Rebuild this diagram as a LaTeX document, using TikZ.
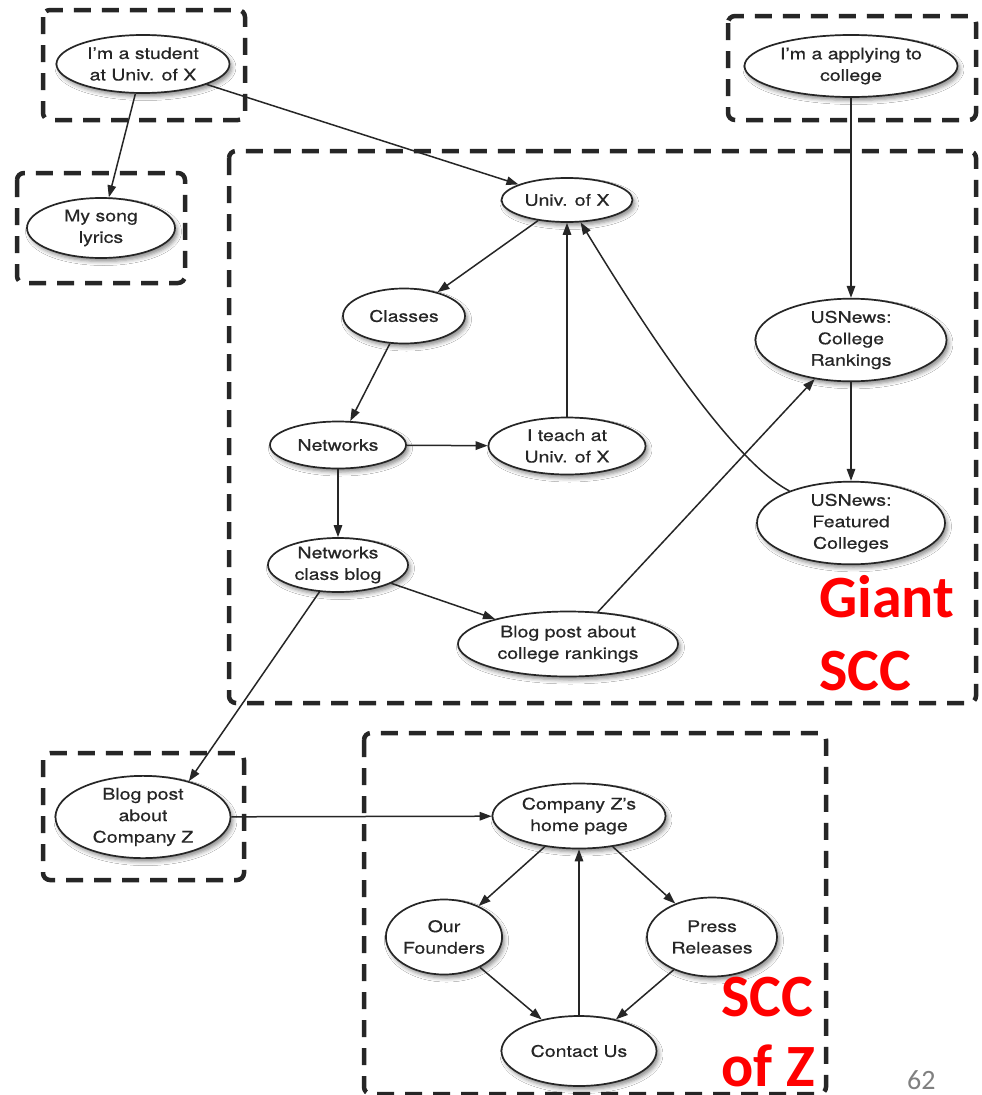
\documentclass[tikz,border=0pt]{standalone}
\usepackage{fontspec}
\setmainfont{TeX Gyre Heros}[FakeStretch=1.22, FakeBold=0.5]
\newfontfamily\labelfont{Carlito}
\usetikzlibrary{shapes.geometric,arrows.meta,shadows.blur}

\tikzset{
  vertex/.style={ellipse, draw=black!85, line width=1.7pt, fill=white,
    inner sep=0pt, align=center, text=black!85,
    font=\fontsize{16}{21.5}\selectfont,
    blur shadow={shadow xshift=2.5pt, shadow yshift=-3.5pt,
      shadow blur radius=4pt, shadow opacity=45}},
  group/.style={draw=black!85, line width=4.5pt,
    dash pattern=on 17pt off 11pt, rounded corners=7pt},
  link/.style={draw=black!85, line width=1.5pt,
    -{Triangle[length=12pt,width=8.5pt]}},
  scclabel/.style={text=red, font=\labelfont\bfseries\fontsize{60}{72}\selectfont,
    inner sep=0pt, anchor=base west},
}

\begin{document}
\begin{tikzpicture}[x=1pt,y=-1pt]
  \useasboundingbox (0,0) rectangle (982,1095);
  \fill[white] (0,0) rectangle (982,1095);

  % groupings of the web pages
  \draw[group] (43,10) rectangle (245,120);
  \draw[group] (17,173) rectangle (185,283);
  \draw[group] (728,16) rectangle (976,120);
  \draw[group] (229,151) rectangle (976,703);
  \draw[group] (43,753) rectangle (244,880);
  \draw[group] (364,733) rectangle (826,1094);

  % pages
  \node[vertex, minimum width=173pt, minimum height=58pt] (student) at (143,64) {I'm a student\\at Univ. of X};
  \node[vertex, minimum width=148pt, minimum height=60pt] (song) at (101,228) {My song\\lyrics};
  \node[vertex, minimum width=213pt, minimum height=62pt] (apply) at (851,66) {I'm a applying to\\college};
  \node[vertex, minimum width=131pt, minimum height=44pt] (univ) at (567,200) {Univ. of X};
  \node[vertex, minimum width=122pt, minimum height=55pt] (classes) at (404,316) {Classes};
  \node[vertex, minimum width=136pt, minimum height=47pt] (net) at (338,445) {Networks};
  \node[vertex, minimum width=157pt, minimum height=57pt] (teach) at (567,446) {I teach at\\Univ. of X};
  \node[vertex, minimum width=191pt, minimum height=76pt] (rank) at (851,340) {USNews:\\College\\Rankings};
  \node[vertex, minimum width=188pt, minimum height=72pt] (feat) at (851,523) {USNews:\\Featured\\Colleges};
  \node[vertex, minimum width=140pt, minimum height=54pt] (ncb) at (338,565) {Networks\\class blog};
  \node[vertex, minimum width=220pt, minimum height=65pt] (bcr) at (568,644) {Blog post about\\college rankings};
  \node[vertex, minimum width=175pt, minimum height=78pt] (bpz) at (143,817) {Blog post\\about\\Company Z};
  \node[vertex, minimum width=173pt, minimum height=65pt] (home) at (579,816) {Company Z's\\home page};
  \node[vertex, minimum width=114pt, minimum height=75pt] (found) at (444,937) {Our\\Founders};
  \node[vertex, minimum width=130pt, minimum height=79pt] (press) at (712,937) {Press\\Releases};
  \node[vertex, minimum width=155pt, minimum height=70pt] (contact) at (579,1051) {Contact Us};

  % links
  \draw[link] (student) -- (song);
  \draw[link] (student) -- (univ);
  \draw[link] (apply) -- (rank);
  \draw[link] (univ) -- (classes);
  \draw[link] (classes) -- (net);
  \draw[link] (net) -- (teach);
  \draw[link] (teach) -- (univ);
  \draw[link] (rank) -- (feat);
  \draw[link] (feat) .. controls (730,460) and (640,320) .. (univ);
  \draw[link] (net) -- (ncb);
  \draw[link] (ncb) -- (bcr);
  \draw[link] (bcr) -- (rank);
  \draw[link] (ncb) -- (bpz.38);
  \draw[link] (bpz) -- (home);
  \draw[link] (home) -- (found);
  \draw[link] (home) -- (press);
  \draw[link] (found) -- (contact);
  \draw[link] (press) -- (contact);
  \draw[link] (contact) -- (home);

  % component labels
  \node[scclabel] (giant1) at (819,617) {Giant};
  \node[scclabel] (giant2) at (819,690) {SCC};
  \node[scclabel] (z1) at (721,1016) {SCC};
  \node[scclabel] (z2) at (721,1086) {of Z};
  \node[text=black!50, font=\labelfont\fontsize{28}{30}\selectfont, inner sep=0pt, anchor=base west] (page) at (907,1089) {62};
\end{tikzpicture}
\end{document}
